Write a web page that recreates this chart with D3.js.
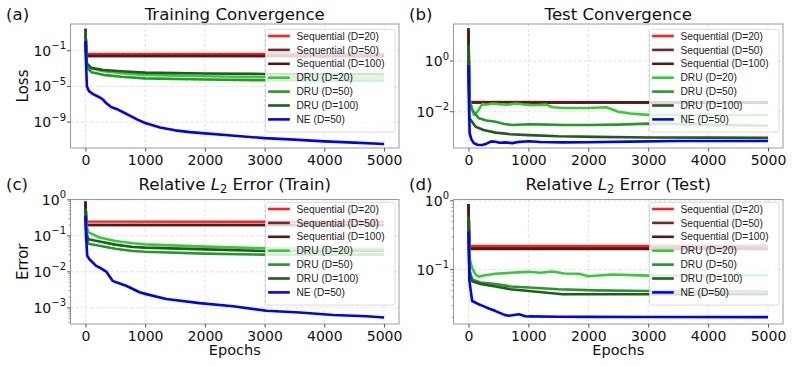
<!DOCTYPE html>
<html>
<head>
<meta charset="utf-8">
<script src="https://cdn.jsdelivr.net/npm/d3@7"></script>
<style>
  body { margin: 0; background: #fff; }
  svg { font-family: "DejaVu Sans", sans-serif; }
</style>
</head>
<body>
<div id="chart"></div>
<script>
// legend entries and colours (same order as every series list below)
const seriesNames = [
  "Sequential (D=20)", "Sequential (D=50)", "Sequential (D=100)",
  "DRU (D=20)", "DRU (D=50)", "DRU (D=100)", "NE (D=50)"
];
const seriesColors = ["#ff1f1f", "#7a2424", "#4a1c1c", "#33cc33", "#289628", "#1f5c1f", "#0000ff"];

const epochTicks = [0, 1000, 2000, 3000, 4000, 5000];

// (a) training loss, [epoch, value]
const trainLoss = [
  [[0, 25], [15, 0.045], [5000, 0.043]],
  [[0, 25], [15, 0.027], [5000, 0.025]],
  [[0, 30], [15, 0.026], [5000, 0.025]],
  [[0, 20], [20, 3e-3], [100, 1e-3], [300, 5e-4], [600, 3e-4], [1000, 2e-4], [2000, 1.4e-4], [3000, 1.1e-4], [4000, 1.0e-4], [5000, 1.0e-4]],
  [[0, 20], [20, 1.5e-3], [100, 4e-4], [300, 2e-4], [600, 1.2e-4], [1000, 8e-5], [2000, 6e-5], [3000, 5e-5], [5000, 4.5e-5]],
  [[0, 20], [20, 4e-3], [100, 1.2e-3], [300, 7e-4], [600, 5e-4], [1000, 3.5e-4], [2000, 2.8e-4], [3000, 2.5e-4], [5000, 2.4e-4]],
  [[0, 1.2], [8, 1e-2], [25, 1e-5], [60, 3e-6], [120, 1.5e-6], [200, 8e-7], [280, 4e-7], [350, 1.3e-7], [430, 5e-8],
   [520, 3e-8], [640, 1.2e-8], [750, 5e-9], [880, 1.8e-9], [1000, 8e-10], [1250, 2.5e-10], [1500, 1.2e-10],
   [1750, 7.5e-11], [2000, 5.5e-11], [2500, 3e-11], [3000, 1.6e-11], [3500, 1.1e-11], [4000, 7e-12], [4500, 5e-12], [5000, 3.5e-12]]
];

// (b) test loss
const testLoss = [
  [[0, 15], [15, 0.024], [5000, 0.023]],
  [[0, 18], [15, 0.023], [5000, 0.023]],
  [[0, 20], [15, 0.023], [5000, 0.023]],
  [[0, 4.3], [15, 0.03], [40, 0.02], [90, 0.0075], [150, 0.01], [229, 0.02], [300, 0.019], [400, 0.021], [500, 0.02],
   [650, 0.019], [800, 0.021], [950, 0.019], [1100, 0.018], [1300, 0.019], [1400, 0.015], [1600, 0.014], [2000, 0.014],
   [2300, 0.015], [2500, 0.01], [2700, 0.0085], [3000, 0.0075], [4000, 0.0075], [5000, 0.0074]],
  [[0, 4.3], [15, 0.025], [60, 0.012], [173, 0.0055], [300, 0.0045], [452, 0.004], [600, 0.0033], [730, 0.003],
   [1010, 0.0032], [1300, 0.0031], [1600, 0.003], [2000, 0.003], [2500, 0.0031], [3000, 0.0034], [4000, 0.0031], [5000, 0.0028]],
  [[0, 4.3], [15, 0.0056], [117, 0.0026], [250, 0.0019], [452, 0.0015], [700, 0.0013], [1010, 0.0012], [1500, 0.00108],
   [2125, 0.00102], [3000, 0.00097], [4000, 0.00095], [5000, 0.00093]],
  [[0, 0.7], [10, 0.01], [20, 0.0014], [50, 0.0008], [89, 0.00058], [150, 0.0005], [229, 0.00049], [300, 0.00055],
   [380, 0.00068], [452, 0.00066], [520, 0.0006], [620, 0.00062], [730, 0.00058], [850, 0.00065], [1010, 0.00069],
   [1200, 0.00064], [1570, 0.00062], [2000, 0.00063], [2680, 0.00066], [3500, 0.0007], [5000, 0.0007]]
];

// (c) relative L2 error, train
const trainErr = [
  [[0, 0.9], [15, 0.25], [5000, 0.245]],
  [[0, 0.9], [15, 0.2], [5000, 0.2]],
  [[0, 0.9], [15, 0.2], [5000, 0.2]],
  [[0, 0.55], [15, 0.2], [50, 0.125], [235, 0.09], [500, 0.072], [794, 0.062], [1000, 0.058], [2000, 0.05], [3000, 0.045], [5000, 0.043]],
  [[0, 0.55], [15, 0.1], [50, 0.06], [235, 0.053], [500, 0.044], [794, 0.038], [1000, 0.036], [2000, 0.032], [3000, 0.03], [5000, 0.03]],
  [[0, 0.55], [15, 0.12], [50, 0.08], [235, 0.07], [500, 0.057], [794, 0.049], [1000, 0.047], [2000, 0.042], [3000, 0.038], [5000, 0.038]],
  [[0, 0.36], [10, 0.1], [30, 0.028], [67, 0.0224], [179, 0.0147], [235, 0.0132], [347, 0.0102], [458, 0.0056],
   [514, 0.0051], [682, 0.0041], [906, 0.0027], [1018, 0.0024], [1353, 0.00175], [1912, 0.00135], [2472, 0.0011],
   [3031, 0.00083], [3590, 0.00074], [4150, 0.00063], [4710, 0.00058], [5000, 0.00054]]
];

// (d) relative L2 error, test
const testErr = [
  [[0, 0.9], [15, 0.22], [5000, 0.22]],
  [[0, 0.9], [15, 0.205], [5000, 0.205]],
  [[0, 0.9], [15, 0.2], [5000, 0.2]],
  [[0, 0.57], [15, 0.15], [61, 0.105], [120, 0.085], [173, 0.079], [250, 0.082], [452, 0.087], [700, 0.09], [1010, 0.093],
   [1200, 0.09], [1400, 0.094], [1600, 0.088], [1840, 0.087], [2000, 0.08], [2400, 0.085], [3000, 0.082], [4000, 0.082], [5000, 0.083]],
  [[0, 0.57], [15, 0.1], [61, 0.072], [200, 0.065], [452, 0.062], [700, 0.057], [1010, 0.055], [1500, 0.052], [2125, 0.05], [3000, 0.049], [5000, 0.048]],
  [[0, 0.57], [15, 0.09], [61, 0.068], [200, 0.062], [452, 0.057], [700, 0.052], [1010, 0.049], [1570, 0.044], [2125, 0.044], [3000, 0.044], [5000, 0.044]],
  [[0, 0.36], [15, 0.07], [61, 0.035], [150, 0.032], [229, 0.03], [350, 0.027], [452, 0.025], [600, 0.022], [675, 0.0214],
   [842, 0.0225], [950, 0.021], [1010, 0.0209], [1500, 0.0207], [2000, 0.0206], [3000, 0.0205], [5000, 0.0204]]
];

// y tick exponents per panel
const trainLossTicks = [-9, -5, -1];
const testLossTicks = [-2, 0];
const trainErrTicks = [-3, -2, -1, 0];
const testErrTicks = [-1, 0];

const W = 792, H = 367;
const svg = d3.select("#chart").append("svg").attr("width", W).attr("height", H);

const panels = [
  { tag: "(a)", title: "Training Convergence", ylabel: "Loss", data: trainLoss, ticks: trainLossTicks,
    yExp: [-11.9, 2.0], box: { l: 70.5, r: 399, t: 24, b: 148 }, titleY: 19.5, legendTop: 29.3, minor: false, xlabel: false },
  { tag: "(b)", title: "Test Convergence", ylabel: null, data: testLoss, ticks: testLossTicks,
    yExp: [-3.43, 1.46], box: { l: 453.5, r: 783, t: 24, b: 148 }, titleY: 19.5, legendTop: 29.3, minor: false, xlabel: false },
  { tag: "(c)", title: ["Relative ", "L", "2", " Error (Train)"], ylabel: "Error", data: trainErr, ticks: trainErrTicks,
    yExp: [-3.45, 0.01], box: { l: 70.5, r: 399, t: 199.5, b: 324 }, titleY: 189.5, legendTop: 202.3, minor: true, xlabel: true },
  { tag: "(d)", title: ["Relative ", "L", "2", " Error (Test)"], ylabel: null, data: testErr, ticks: testErrTicks,
    yExp: [-1.79, 0.02], box: { l: 453.5, r: 783, t: 199.5, b: 324 }, titleY: 189.5, legendTop: 202.3, minor: true, xlabel: true }
];

panels.forEach((p, pi) => {
  const b = p.box;
  const x = d3.scaleLinear().domain([-250, 5250]).range([b.l, b.r]);
  const y = d3.scaleLog().domain([Math.pow(10, p.yExp[0]), Math.pow(10, p.yExp[1])]).range([b.b, b.t]);
  const g = svg.append("g");

  // grid
  g.selectAll(".gx").data(epochTicks).join("line")
    .attr("x1", d => x(d)).attr("x2", d => x(d)).attr("y1", b.t).attr("y2", b.b)
    .attr("stroke", "#d9d9d9").attr("stroke-width", 0.8).attr("stroke-dasharray", "3,2");
  g.selectAll(".gy").data(p.ticks).join("line")
    .attr("x1", b.l).attr("x2", b.r).attr("y1", d => y(Math.pow(10, d))).attr("y2", d => y(Math.pow(10, d)))
    .attr("stroke", "#d9d9d9").attr("stroke-width", 0.8).attr("stroke-dasharray", "3,2");

  // clip
  const clipId = "clip" + pi;
  svg.append("clipPath").attr("id", clipId).append("rect")
    .attr("x", b.l).attr("y", b.t).attr("width", b.r - b.l).attr("height", b.b - b.t);

  const line = d3.line().x(d => x(d[0])).y(d => y(d[1]));
  g.append("g").attr("clip-path", `url(#${clipId})`)
    .selectAll("path").data(p.data).join("path")
    .attr("d", line)
    .attr("fill", "none")
    .attr("stroke", (d, i) => seriesColors[i])
    .attr("stroke-width", 2.6)
    .attr("stroke-linejoin", "round");

  // frame
  g.append("rect").attr("x", b.l).attr("y", b.t).attr("width", b.r - b.l).attr("height", b.b - b.t)
    .attr("fill", "none").attr("stroke", "#9a9a9a").attr("stroke-width", 1);

  // x axis
  const xAxis = d3.axisBottom(x).tickValues(epochTicks).tickSize(3.5).tickPadding(3.5).tickFormat(d3.format("d"));
  const xa = g.append("g").attr("transform", `translate(0,${b.b})`).call(xAxis);
  xa.select(".domain").remove();
  xa.selectAll("line").attr("stroke", "#555");
  xa.selectAll("text").attr("font-size", 14).attr("fill", "#111").attr("font-family", "DejaVu Sans");

  // y axis, log ticks with superscripts
  const ya = g.append("g");
  p.ticks.forEach(e => {
    const yy = y(Math.pow(10, e));
    ya.append("line").attr("x1", b.l - 3.5).attr("x2", b.l).attr("y1", yy).attr("y2", yy).attr("stroke", "#555");
    const t = ya.append("text").attr("x", b.l - 4.5).attr("y", yy + 5).attr("text-anchor", "end")
      .attr("font-size", 14).attr("fill", "#111");
    t.append("tspan").text("10");
    t.append("tspan").attr("dy", -6.5).attr("font-size", 10).text(e < 0 ? "\u2212" + (-e) : String(e));
  });
  if (p.minor) {
    const minors = [];
    for (let e = Math.floor(p.yExp[0]); e < Math.ceil(p.yExp[1]); e++) {
      for (let k = 2; k <= 9; k++) {
        const v = k * Math.pow(10, e);
        const lv = Math.log10(v);
        if (lv > p.yExp[0] && lv < p.yExp[1]) minors.push(v);
      }
    }
    ya.selectAll(".minor").data(minors).join("line")
      .attr("x1", b.l - 2).attr("x2", b.l).attr("y1", d => y(d)).attr("y2", d => y(d))
      .attr("stroke", "#555").attr("stroke-width", 0.6);
  }

  // title
  const cx = (b.l + b.r) / 2;
  const title = g.append("text").attr("x", cx).attr("y", p.titleY).attr("text-anchor", "middle")
    .attr("font-size", 16.6).attr("fill", "#111");
  if (typeof p.title === "string") {
    title.text(p.title);
  } else {
    title.append("tspan").text(p.title[0]);
    title.append("tspan").attr("font-style", "italic").text(p.title[1]);
    title.append("tspan").attr("font-size", 11.5).attr("dy", 3.5).text(p.title[2]);
    title.append("tspan").attr("dy", -3.5).text(p.title[3]);
  }
  g.append("text").attr("x", b.l < 100 ? 6 : 409).attr("y", p.titleY).attr("font-size", 16.6).attr("fill", "#111").text(p.tag);

  if (p.ylabel) {
    g.append("text").attr("transform", `translate(28,${(b.t + b.b) / 2}) rotate(-90)`)
      .attr("text-anchor", "middle").attr("font-size", 15).attr("fill", "#111").text(p.ylabel);
  }
  if (p.xlabel) {
    g.append("text").attr("x", cx).attr("y", 355).attr("text-anchor", "middle")
      .attr("font-size", 14.5).attr("fill", "#111").text("Epochs");
  }

  // legend
  const lw = 129.5, lx = b.r - 4 - lw, ly = p.legendTop, rowH = 13.9;
  const lg = g.append("g");
  lg.append("rect").attr("x", lx).attr("y", ly).attr("width", lw).attr("height", rowH * 7 + 5.5)
    .attr("rx", 2.5).attr("fill", "#fff").attr("fill-opacity", 0.82).attr("stroke", "#d0d0d0").attr("stroke-width", 0.8);
  seriesNames.forEach((n, i) => {
    const ry = ly + 6.7 + i * rowH;
    lg.append("line").attr("x1", lx + 2.6).attr("x2", lx + 24.3).attr("y1", ry).attr("y2", ry)
      .attr("stroke", seriesColors[i]).attr("stroke-width", 2.6);
    lg.append("text").attr("x", lx + 31).attr("y", ry + 3.6).attr("font-size", 10.2)
      .attr("font-family", "Liberation Sans").attr("fill", "#222").text(n);
  });
});
</script>
</body>
</html>
